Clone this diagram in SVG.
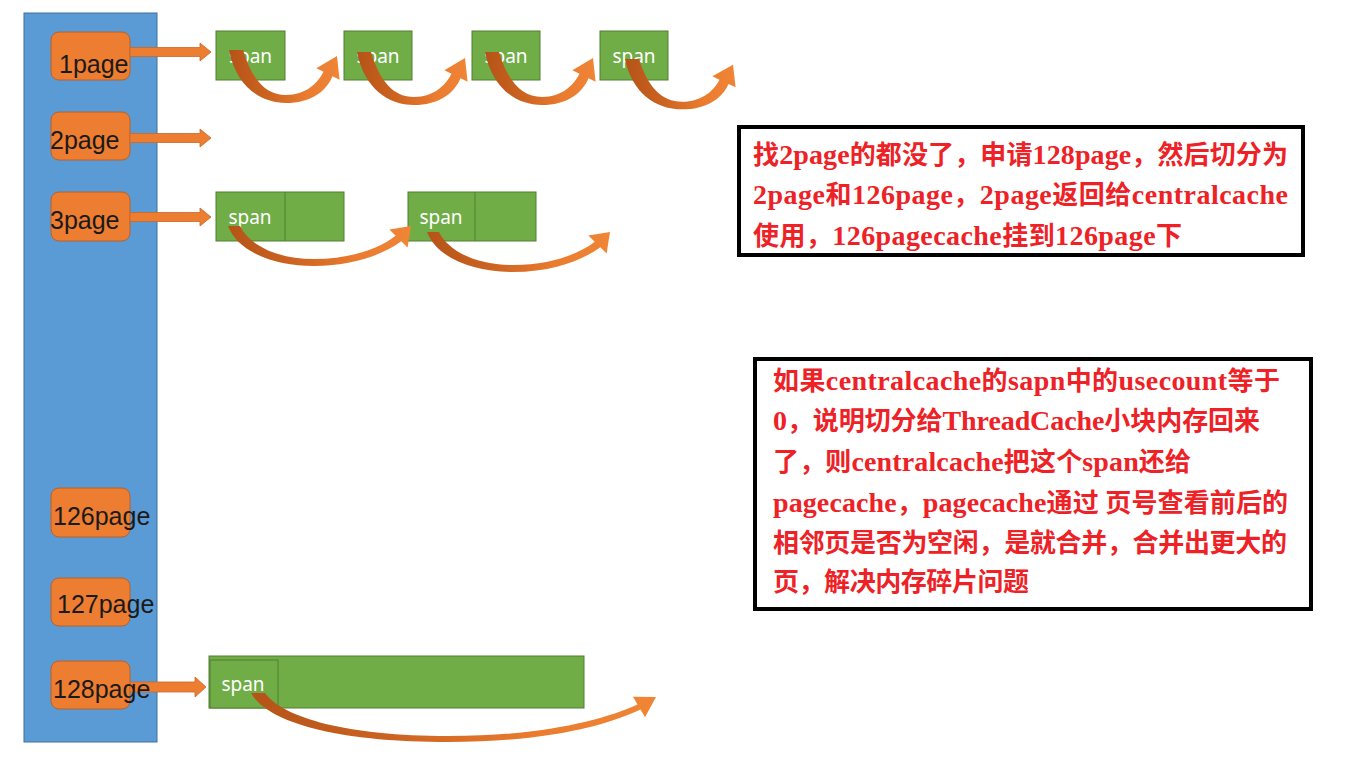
<svg xmlns="http://www.w3.org/2000/svg" xmlns:xlink="http://www.w3.org/1999/xlink" width="1360" height="768" viewBox="0 0 1360 768">
<defs>
<style>
.col{fill:#5B9BD5;stroke:#41719C;stroke-width:1}
.pg{fill:#ED7D31;stroke:#B8612A;stroke-width:1}
.pgt{font-family:"Liberation Sans","Noto Sans",sans-serif;font-size:25px;fill:#1a1a1a}
.sp{fill:#70AD47;stroke:#507E32;stroke-width:1}
.spt{font-family:"Noto Sans","Liberation Sans",sans-serif;font-size:19px;fill:#ffffff;text-anchor:middle}
.ba{fill:#ED7D31;stroke:#C8682A;stroke-width:0.8}
.ca{fill:url(#cg)}
.box{fill:#ffffff;stroke:#000000;stroke-width:4}
.rt{font-family:"Liberation Serif","Noto Sans CJK SC",serif;font-weight:bold;font-size:26px;fill:#EE2226}
.lt{font-size:28px}
</style>
<linearGradient id="cg" x1="0" y1="0" x2="1" y2="0">
<stop offset="0" stop-color="#B55318"/>
<stop offset="0.35" stop-color="#CC6321"/>
<stop offset="0.7" stop-color="#EA7B2F"/>
<stop offset="1" stop-color="#F08536"/>
</linearGradient>
<path id="cA" class="ca" d="M -7,0 C 0,36 24,53 50,53 C 74,53 90,42 96.5,26.2 L 103.6,29.8 L 101,6 L 80.4,18.2 L 87.5,21.8 C 82,33 70,45 50,45 C 30,45 16,30 7,0 Z"/>
<path id="cB" class="ca" d="M -6,0 C 4,26 40,40 80,40 C 120,40 150,28 167.3,15.3 L 173.6,21.6 L 177,0 L 155.4,3.4 L 161.7,9.7 C 146,22 118,33 80,33 C 44,33 16,20 6,0 Z"/>
<path id="bA" class="ba" d="M0,-4.5 H70 V-9 L81,0 L70,9 V4.5 H0 Z"/>
</defs>
<rect width="1360" height="768" fill="#ffffff"/>

<g id="column">
<rect class="col" x="24" y="13" width="133" height="729"/>
</g>

<g id="p1"><rect class="pg" x="51" y="32" width="79" height="48" rx="8"/></g>
<g id="p2"><rect class="pg" x="51" y="112" width="79" height="48" rx="8"/></g>
<g id="p3"><rect class="pg" x="51" y="192" width="79" height="49" rx="8"/></g>
<g id="p126"><rect class="pg" x="51" y="488" width="79" height="49" rx="8"/></g>
<g id="p127"><rect class="pg" x="51" y="578" width="79" height="48" rx="8"/></g>
<g id="p128"><rect class="pg" x="51" y="661" width="79" height="48" rx="8"/></g>

<g id="s1a"><rect class="sp" x="216" y="31" width="69" height="49"/><text class="spt" x="250.5" y="63">span</text></g>
<g id="s1b"><rect class="sp" x="344" y="31" width="68" height="49"/><text class="spt" x="378" y="63">span</text></g>
<g id="s1c"><rect class="sp" x="472" y="31" width="68" height="49"/><text class="spt" x="506" y="63">span</text></g>
<g id="s1d"><rect class="sp" x="600" y="31" width="68" height="49"/><text class="spt" x="634" y="63">span</text></g>

<g id="s3a"><rect class="sp" x="216" y="192" width="128" height="49"/><line x1="285" y1="192" x2="285" y2="241" stroke="#507E32"/><text class="spt" x="250" y="224">span</text></g>
<g id="s3b"><rect class="sp" x="408" y="192" width="128" height="49"/><line x1="475" y1="192" x2="475" y2="241" stroke="#507E32"/><text class="spt" x="441" y="224">span</text></g>

<g id="s128"><rect class="sp" x="209" y="656" width="375" height="52"/><rect class="sp" x="210" y="660" width="68" height="48"/><text class="spt" x="243" y="691">span</text></g>

<g id="connectors">
<use xlink:href="#bA" transform="translate(130,52)"/>
<use xlink:href="#bA" transform="translate(130,138)"/>
<use xlink:href="#bA" transform="translate(130,217)"/>
<path class="ba" d="M130,682 H195 V677 L206,687 L195,697 V692 H130 Z"/>
<use xlink:href="#cA" transform="translate(236,50)"/>
<use xlink:href="#cA" transform="translate(364,52)"/>
<use xlink:href="#cA" transform="translate(492,52)"/>
<use xlink:href="#cA" transform="translate(632,59) scale(1.0,0.95)"/>
<use xlink:href="#cB" transform="translate(234,226)"/>
<use xlink:href="#cB" transform="translate(433,232)"/>
<path class="ca" transform="translate(258,693)" d="M -7,0 C 10,30 80,49 190,49 C 290,49 350,32 382.5,16.5 L 387,24.2 L 398,4 L 375,3.8 L 379.5,11.5 C 345,27 285,43 190,43 C 90,43 25,25 7,0 Z"/>
</g>

<g id="labels">
<text class="pgt" x="59" y="73">1page</text>
<text class="pgt" x="50" y="149">2page</text>
<text class="pgt" x="50" y="229">3page</text>
<text class="pgt" x="53" y="525">126page</text>
<text class="pgt" x="57" y="613">127page</text>
<text class="pgt" x="53" y="698">128page</text>
</g>

<g id="note1">
<rect class="box" x="739" y="127" width="564" height="128"/>
<text class="rt" x="753" y="164" textLength="535">找<tspan class="lt">2page</tspan>的都没了，申请<tspan class="lt">128page</tspan>，然后切分为</text>
<text class="rt" x="753" y="204" textLength="535"><tspan class="lt">2page</tspan>和<tspan class="lt">126page</tspan>，<tspan class="lt">2page</tspan>返回给<tspan class="lt">centralcache</tspan></text>
<text class="rt" x="753" y="245" textLength="429">使用，<tspan class="lt">126pagecache</tspan>挂到<tspan class="lt">126page</tspan>下</text>
</g>

<g id="note2">
<rect class="box" x="755" y="359" width="556" height="250"/>
<text class="rt" x="773" y="390" textLength="507">如果<tspan class="lt">centralcache</tspan>的<tspan class="lt">sapn</tspan>中的<tspan class="lt">usecount</tspan>等于</text>
<text class="rt" x="773" y="430" textLength="487"><tspan class="lt">0</tspan>，说明切分给<tspan class="lt">ThreadCache</tspan>小块内存回来</text>
<text class="rt" x="773" y="471" textLength="418">了，则<tspan class="lt">centralcache</tspan>把这个<tspan class="lt">span</tspan>还给</text>
<text class="rt" x="773" y="512" textLength="515"><tspan class="lt">pagecache</tspan>，<tspan class="lt">pagecache</tspan>通过 页号查看前后的</text>
<text class="rt" x="773" y="552" textLength="514">相邻页是否为空闲，是就合并，合并出更大的</text>
<text class="rt" x="773" y="591" textLength="256">页，解决内存碎片问题</text>
</g>
</svg>
